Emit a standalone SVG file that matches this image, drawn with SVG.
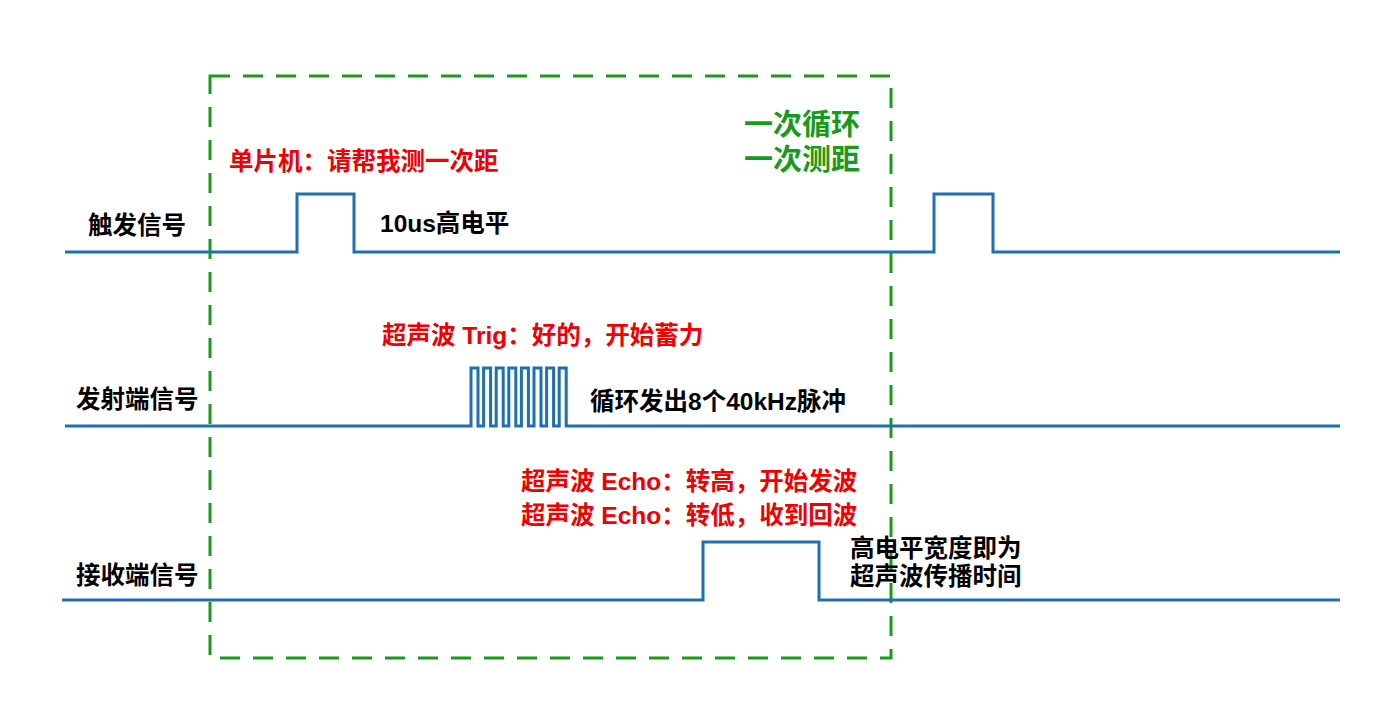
<svg xmlns="http://www.w3.org/2000/svg" width="1400" height="728" viewBox="0 0 1400 728">
<style>
.sig{fill:none;stroke:#1f70b0;stroke-width:3}
.box{fill:none;stroke:#1a9a1a;stroke-width:3;stroke-dasharray:20 13}
text{font-family:"Liberation Sans","Noto Sans CJK SC",sans-serif;font-weight:bold}
.lbl{font-size:24.5px;fill:#000}
.red{font-size:24.5px;fill:#ee0000}
.grn{font-size:29px;fill:#1a9a1a}
</style>
<rect width="1400" height="728" fill="#fff"/>
<g id="loop-box"><rect class="box" x="210" y="76" width="681" height="582"/></g>
<g id="connectors">
<path id="trig-line" class="sig" d="M65,252 H297 V194 H354 V252 H934 V194 H993 V252 H1340"/>
<path id="tx-line" class="sig" d="M65,426 H471 V368 H478 V426 H483.6 V368 H490.6 V426 H496.2 V368 H503.2 V426 H508.8 V368 H515.8 V426 H521.4 V368 H528.4 V426 H534 V368 H541 V426 H546.6 V368 H553.6 V426 H559.2 V368 H566.2 V426 H1340"/>
<path id="rx-line" class="sig" d="M62,600 H703 V542 H819 V600 H1340"/>
</g>
<g id="trig-label"><text class="lbl" x="88" y="234">触发信号</text></g>
<g id="tx-label"><text class="lbl" x="76" y="408">发射端信号</text></g>
<g id="rx-label"><text class="lbl" x="76" y="584">接收端信号</text></g>
<g id="mcu-note"><text class="red" x="229" y="170">单片机：请帮我测一次距</text></g>
<g id="loop-note"><text class="grn" x="744" y="135">一次循环</text><text class="grn" x="744" y="170">一次测距</text></g>
<g id="pulse-note"><text class="lbl" x="380" y="232">10us高电平</text></g>
<g id="trig-note"><text class="red" x="382" y="344">超声波 Trig：好的，开始蓄力</text></g>
<g id="burst-note"><text class="lbl" x="590" y="410">循环发出8个40kHz脉冲</text></g>
<g id="echo-note"><text class="red" x="521" y="490">超声波 Echo：转高，开始发波</text><text class="red" x="521" y="524">超声波 Echo：转低，收到回波</text></g>
<g id="width-note"><text class="lbl" x="850" y="557">高电平宽度即为</text><text class="lbl" x="850" y="585">超声波传播时间</text></g>
</svg>
